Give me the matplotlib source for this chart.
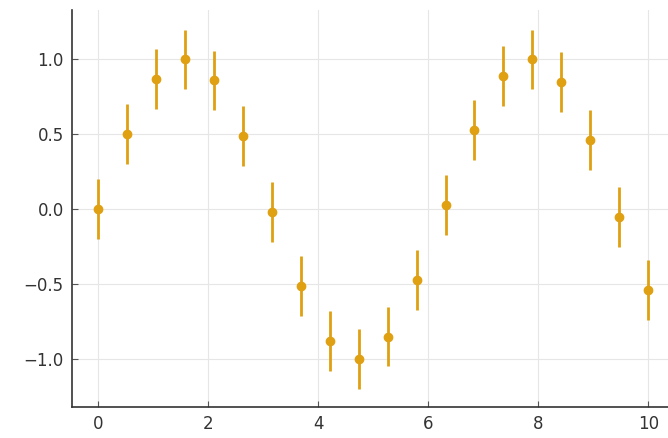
import matplotlib
matplotlib.use("Agg")
import matplotlib.pyplot as plt

# sampled points and their symmetric errors
x_vals = [0.0, 0.526, 1.053, 1.579, 2.105, 2.632, 3.158, 3.684, 4.211, 4.737,
          5.263, 5.789, 6.316, 6.842, 7.368, 7.895, 8.421, 8.947, 9.474, 10.0]
y_vals = [0.00, 0.50, 0.87, 1.00, 0.86, 0.49, -0.02, -0.51, -0.88, -1.00,
          -0.85, -0.47, 0.03, 0.53, 0.89, 1.00, 0.85, 0.46, -0.05, -0.54]
y_err = [0.2] * len(x_vals)

x_ticks = [0, 2, 4, 6, 8, 10]
y_ticks = [-1.0, -0.5, 0.0, 0.5, 1.0]

color = "#dfa012"

fig = plt.figure(figsize=(6.68, 4.38), dpi=100)
ax = fig.add_axes([0.108, 0.071, 0.892, 0.906])

ax.errorbar(x_vals, y_vals, yerr=y_err, fmt="o", color=color,
            markersize=6, elinewidth=2.0, capsize=0, zorder=3)

ax.set_xlim(-0.47, 10.36)
ax.set_ylim(-1.32, 1.33)
ax.set_xticks(x_ticks)
ax.set_yticks(y_ticks)
ax.set_yticklabels([f"{v:.1f}".replace("-", "\u2212") for v in y_ticks])

ax.grid(True, color="#e6e6e6", linewidth=0.8, zorder=0)
ax.set_axisbelow(True)
for side in ("top", "right"):
    ax.spines[side].set_visible(False)
for side in ("left", "bottom"):
    ax.spines[side].set_color("#333333")
    ax.spines[side].set_linewidth(1.2)

ax.tick_params(direction="in", length=4, width=0.8, color="#555555",
               labelsize=12, labelcolor="#333333", pad=6)

fig.savefig("out.png", dpi=100)
